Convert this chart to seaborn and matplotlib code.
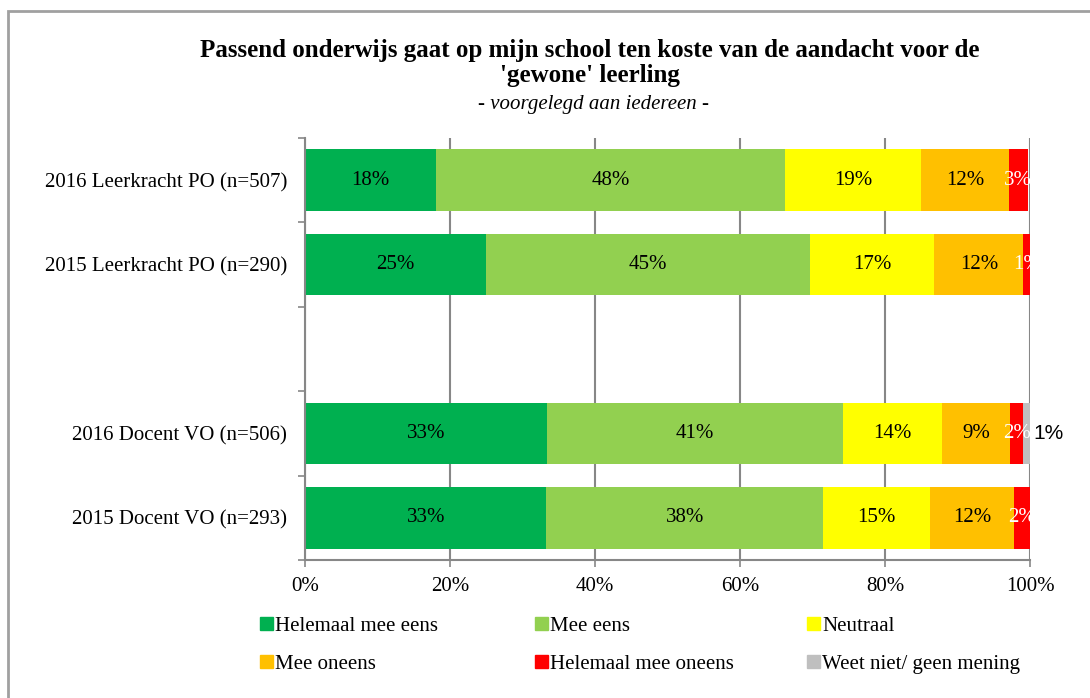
import pandas as pd
import matplotlib.pyplot as plt
import matplotlib.patches as mpatches
import numpy as np
import seaborn as sns

# Data (percentages)
groups = [
    "2016 Leerkracht PO (n=507)",
    "2015 Leerkracht PO (n=290)",
    " ",
    "2016 Docent VO (n=506)",
    "2015 Docent VO (n=293)",
]
answers = [
    "Helemaal mee eens",
    "Mee eens",
    "Neutraal",
    "Mee oneens",
    "Helemaal mee oneens",
    "Weet niet/ geen mening",
]
helemaal_eens = [18.1, 25.0, 0, 33.4, 33.3]
mee_eens = [48.1, 44.7, 0, 40.8, 38.2]
neutraal = [18.8, 17.1, 0, 13.7, 14.7]
mee_oneens = [12.1, 12.3, 0, 9.4, 11.6]
helemaal_oneens = [2.6, 1.0, 0, 1.7, 2.2]
weet_niet = [0.0, 0.0, 0, 1.1, 0.0]

colors = ["#00B050", "#92D050", "#FFFF00", "#FFC000", "#FF0000", "#BFBFBF"]
label_colors = ["black", "black", "black", "black", "white", "black"]

df = pd.DataFrame(
    [helemaal_eens, mee_eens, neutraal, mee_oneens, helemaal_oneens, weet_niet],
    index=answers, columns=groups,
).T
df.index.name = "groep"
cum = df.cumsum(axis=1)

SERIF = "Liberation Serif"
plt.rcParams["font.family"] = SERIF

fig = plt.figure(figsize=(10.9, 6.98), dpi=100, facecolor="w")
ax = fig.add_axes([305 / 1090, 1 - 560 / 698, 725 / 1090, 422 / 698])

# stacked bars: draw cumulative totals from the largest down
plot_df = cum.reset_index()
for col, color in reversed(list(zip(answers, colors))):
    sns.barplot(data=plot_df, x=col, y="groep", order=groups, color=color,
                saturation=1, width=0.73, errorbar=None, orient="h", ax=ax,
                edgecolor="none")

# data labels
for i, g in enumerate(groups):
    if g.strip() == "":
        continue
    for j, ans in enumerate(answers):
        v = df.loc[g, ans]
        if v <= 0:
            continue
        if ans == "Weet niet/ geen mening":
            ax.text(cum.loc[g, ans] + 0.3, i, f"{v:.0f}%", ha="left", va="center",
                    fontsize=15, color="black", family="Liberation Sans")
        else:
            ax.text(cum.loc[g, ans] - v / 2, i, f"{v:.0f}%", ha="center",
                    va="center", fontsize=15, color=label_colors[j])

ax.set_xlim(0, 100)
ax.set_ylim(len(groups) - 0.5, -0.5)
ax.set_xticks(np.arange(0, 101, 20))
ax.set_xticklabels([f"{t}%" for t in range(0, 101, 20)], fontsize=15)
ax.set_yticks(range(len(groups)))
ax.set_yticklabels(groups, fontsize=15)
ax.set_yticks(np.arange(-0.5, len(groups)), minor=True)
ax.tick_params(axis="y", which="major", length=0, pad=13)
ax.tick_params(axis="y", which="minor", length=5, color="#878787", width=1.2)
ax.tick_params(axis="x", length=5, color="#878787", width=1.2, pad=7)
ax.set_xlabel("")
ax.set_ylabel("")
ax.grid(axis="x", color="#878787", linewidth=1.5)
ax.set_axisbelow(True)
for s in ["top", "right"]:
    ax.spines[s].set_visible(False)
for s in ["left", "bottom"]:
    ax.spines[s].set_color("#878787")
    ax.spines[s].set_linewidth(1.5)

# titles
fig.text(590 / 1090, 1 - 63 / 698,
         "Passend onderwijs gaat op mijn school ten koste van de aandacht voor de\n'gewone' leerling",
         ha="center", va="center", fontsize=18, fontweight="bold", linespacing=1.1)
fig.text(594 / 1090, 1 - 105 / 698, "- voorgelegd aan iedereen -",
         ha="center", va="center", fontsize=15, style="italic")

# legend: one small legend per column, as in the original layout
col_x = [260, 535, 807]
for c in range(3):
    handles = [mpatches.Patch(color=colors[k], label=answers[k]) for k in (c, c + 3)]
    fig.legend(handles=handles, ncol=1, loc="upper left",
               bbox_to_anchor=(col_x[c] / 1090, 1 - 617 / 698), frameon=False,
               fontsize=15, handlelength=0.6, handleheight=0.6, handletextpad=0.12,
               labelspacing=0.9, borderpad=0, borderaxespad=0)

# chart border
fig.add_artist(mpatches.Rectangle((8 / 1090, -0.1), 1.2, 1.1 - 11 / 698,
                                  transform=fig.transFigure, fill=False,
                                  edgecolor="#A0A0A0", linewidth=2))

fig.savefig("out.png", dpi=100)
